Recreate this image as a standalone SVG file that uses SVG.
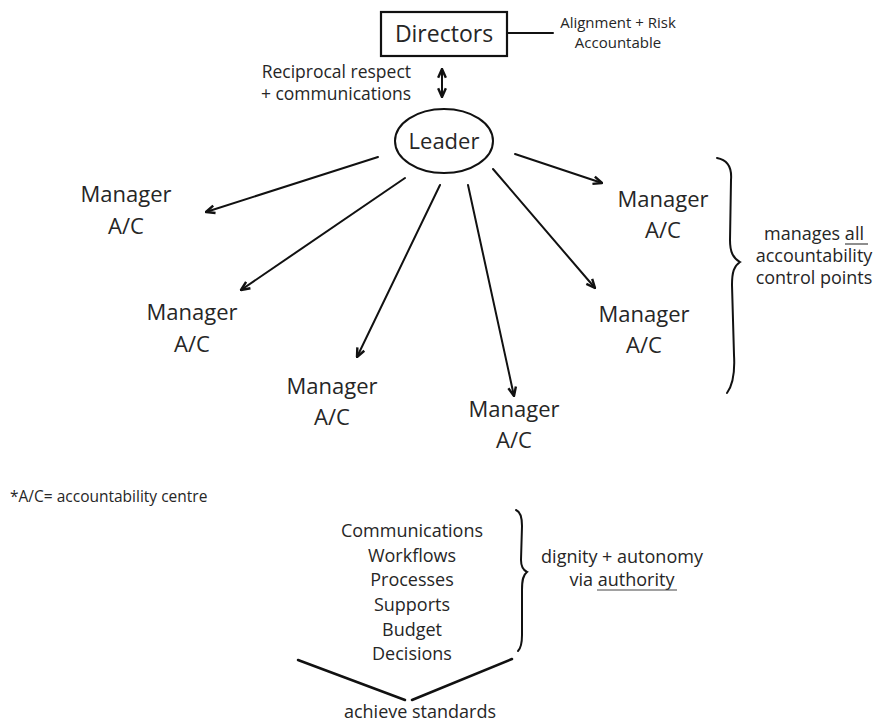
<svg xmlns="http://www.w3.org/2000/svg" width="876" height="722" viewBox="0 0 876 722">
<style>
  text { font-family: "Open Sans", "Noto Sans", "Liberation Sans", sans-serif; fill: #262626; text-anchor: middle; }
  .big { font-size: 22px; }
  .mid { font-size: 18px; }
  .sm { font-size: 15px; }
  .line { stroke: #111; stroke-width: 2; fill: none; stroke-linecap: round; }
  .ul { stroke: #444; stroke-width: 1.2; }
</style>
<defs>
  <marker id="ah" viewBox="0 0 10 10" refX="9" refY="5" markerWidth="11" markerHeight="11" orient="auto-start-reverse" markerUnits="userSpaceOnUse">
    <path d="M1,1.5 L9,5 L1,8.5" fill="none" stroke="#111" stroke-width="2.2" stroke-linejoin="round"/>
  </marker>
</defs>
<rect width="876" height="722" fill="#ffffff"/>

<g id="directors">
  <rect x="381" y="12" width="126" height="44" fill="#fff" stroke="#111" stroke-width="2.2"/>
  <text class="big" x="444" y="42" style="font-size:23px">Directors</text>
</g>
<g id="directors-note">
  <text class="sm" x="618" y="28">Alignment + Risk</text>
  <text class="sm" x="618" y="48">Accountable</text>
</g>
<g id="reciprocal">
  <text style="font-size:17.5px;text-anchor:end" x="411" y="78">Reciprocal respect</text>
  <text style="font-size:17.5px;text-anchor:end" x="411" y="100">+ communications</text>
</g>
<g id="leader">
  <ellipse cx="444" cy="141" rx="49" ry="32" fill="#fff" stroke="#111" stroke-width="2"/>
  <text class="big" x="444" y="149">Leader</text>
</g>

<g id="manager1"><text class="big" x="126" y="202">Manager</text><text class="big" x="126" y="234">A/C</text></g>
<g id="manager2"><text class="big" x="192" y="320">Manager</text><text class="big" x="192" y="352">A/C</text></g>
<g id="manager3"><text class="big" x="332" y="394">Manager</text><text class="big" x="332" y="425">A/C</text></g>
<g id="manager4"><text class="big" x="514" y="417">Manager</text><text class="big" x="514" y="448">A/C</text></g>
<g id="manager5"><text class="big" x="663" y="207">Manager</text><text class="big" x="663" y="238">A/C</text></g>
<g id="manager6"><text class="big" x="644" y="322">Manager</text><text class="big" x="644" y="353">A/C</text></g>

<g id="manages-note">
  <text class="mid" x="814" y="240">manages all</text>
  <line class="ul" x1="845" y1="244" x2="868" y2="244"/>
  <text class="mid" x="814" y="262">accountability</text>
  <text class="mid" x="814" y="284">control points</text>
</g>

<g id="footnote">
  <text style="font-size:15.5px;text-anchor:start" x="10" y="502">*A/C= accountability centre</text>
</g>

<g id="list">
  <text class="mid" x="412" y="537">Communications</text>
  <text class="mid" x="412" y="562">Workflows</text>
  <text class="mid" x="412" y="586">Processes</text>
  <text class="mid" x="412" y="611">Supports</text>
  <text class="mid" x="412" y="636">Budget</text>
  <text class="mid" x="412" y="660">Decisions</text>
</g>
<g id="dignity-note">
  <text class="mid" x="622" y="563">dignity + autonomy</text>
  <text class="mid" x="622" y="586">via authority</text>
  <line class="ul" x1="597" y1="590" x2="677" y2="590"/>
</g>
<g id="achieve">
  <text class="mid" x="420" y="718">achieve standards</text>
</g>

<g id="connectors">
  <line class="line" x1="507" y1="33" x2="553" y2="33"/>
  <line class="line" x1="442" y1="69" x2="442" y2="97" marker-start="url(#ah)" marker-end="url(#ah)"/>
  <line class="line" x1="378" y1="157" x2="206" y2="212" marker-end="url(#ah)"/>
  <line class="line" x1="405" y1="178" x2="241" y2="290" marker-end="url(#ah)"/>
  <line class="line" x1="440" y1="185" x2="357" y2="357" marker-end="url(#ah)"/>
  <line class="line" x1="468" y1="185" x2="514" y2="396" marker-end="url(#ah)"/>
  <line class="line" x1="493" y1="169" x2="595" y2="288" marker-end="url(#ah)"/>
  <line class="line" x1="515" y1="154" x2="602" y2="183" marker-end="url(#ah)"/>
  <path class="line" d="M717,158 C728,160 732,168 731,180 L730,240 C730,252 733,258 740,262 C734,266 732,272 732,285 L734,355 C735,372 733,385 727,393"/>
  <path class="line" d="M516,510 C521,512 522,518 522,526 L521,560 C521,567 523,570 527,572 C523,575 522,580 522,590 L522,635 C522,643 521,648 518,651"/>
  <line class="line" x1="298" y1="660" x2="405" y2="700" style="stroke-width:2.5"/>
  <line class="line" x1="412" y1="700" x2="512" y2="659" style="stroke-width:2.5"/>
</g>
</svg>
